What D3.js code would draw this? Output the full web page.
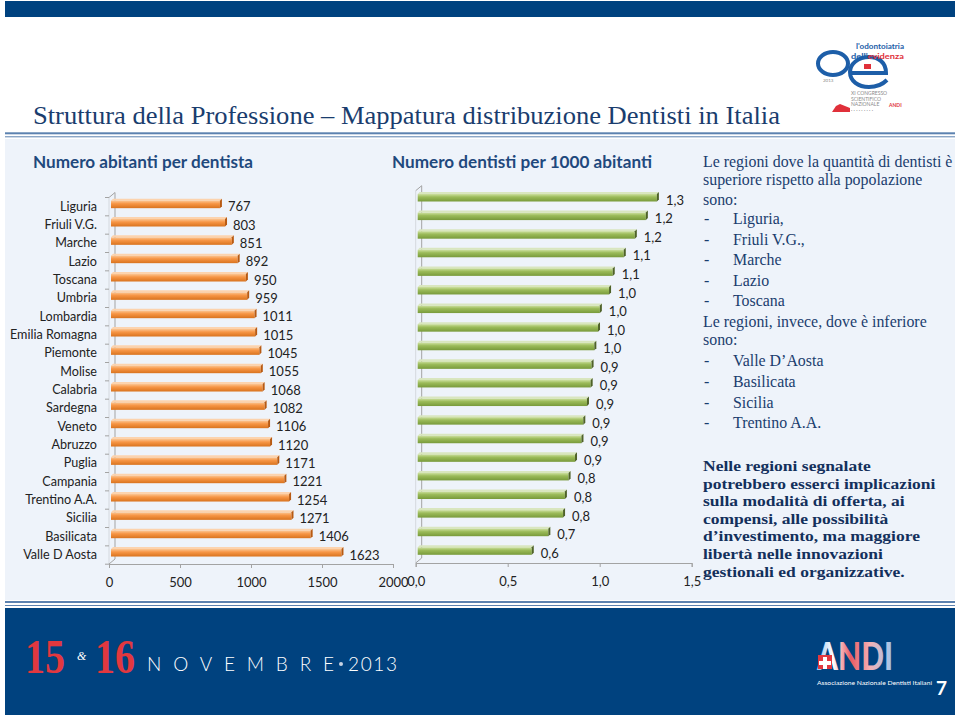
<!DOCTYPE html>
<html><head><meta charset="utf-8">
<script src="https://cdn.jsdelivr.net/npm/d3@7"></script>
<style>html,body{margin:0;padding:0;background:#fff;} svg{display:block}</style>
</head><body><div id="chart"></div>
<script>
const regions = ["Liguria","Friuli V.G.","Marche","Lazio","Toscana","Umbria","Lombardia","Emilia Romagna","Piemonte","Molise","Calabria","Sardegna","Veneto","Abruzzo","Puglia","Campania","Trentino A.A.","Sicilia","Basilicata","Valle D Aosta"];
const abitantiPerDentista = [767,803,851,892,950,959,1011,1015,1045,1055,1068,1082,1106,1120,1171,1221,1254,1271,1406,1623];
const dentistiPer1000 = [1.30,1.24,1.18,1.12,1.06,1.04,0.99,0.98,0.96,0.945,0.94,0.92,0.90,0.89,0.855,0.82,0.80,0.79,0.71,0.62];
const leftTicks = [0,500,1000,1500,2000];
const rightTicks = [0,0.5,1.0,1.5];
const mainTitle = "Struttura della Professione – Mappatura distribuzione Dentisti in Italia";
const leftTitle = "Numero abitanti per dentista";
const rightTitle = "Numero dentisti per 1000 abitanti";
const introSup = ["Le regioni dove la quantità di dentisti è","superiore rispetto alla popolazione","sono:"];
const superiore = ["Liguria,","Friuli V.G.,","Marche","Lazio","Toscana"];
const introInf = ["Le regioni, invece, dove è inferiore","sono:"];
const inferiore = ["Valle D’Aosta","Basilicata","Sicilia","Trentino A.A."];
const conclusione = ["Nelle regioni segnalate","potrebbero esserci implicazioni","sulla modalità di offerta, ai","compensi, alle possibilità","d’investimento, ma maggiore","libertà nelle innovazioni","gestionali ed organizzative."];

const NAVY = "#00427f";
const svg = d3.select("#chart").append("svg").attr("width",960).attr("height",716);
const defs = svg.append("defs");
function vgrad(id, stops){
  const g = defs.append("linearGradient").attr("id",id).attr("x1",0).attr("y1",0).attr("x2",0).attr("y2",1);
  stops.forEach(s=>g.append("stop").attr("offset",s[0]).attr("stop-color",s[1]));
}
vgrad("gOrange",[["0%","#fbc592"],["40%","#f79646"],["100%","#d9731e"]]);
vgrad("gGreen",[["0%","#cde0a0"],["40%","#9bbb59"],["100%","#789a3a"]]);
const andiG = defs.append("linearGradient").attr("id","gAndi").attr("x1",0).attr("y1",0).attr("x2",1).attr("y2",0);
[["0%","#8fc0ee"],["22%","#ffffff"],["45%","#e85a62"],["70%","#f3b0b4"],["100%","#9cc8f0"]].forEach(s=>andiG.append("stop").attr("offset",s[0]).attr("stop-color",s[1]));

// page frame
svg.append("rect").attr("x",5).attr("y",1).attr("width",950).attr("height",16).attr("fill",NAVY);
svg.append("rect").attr("x",5).attr("y",139).attr("width",950).attr("height",461).attr("fill","#eef3fa");
svg.append("rect").attr("x",5).attr("y",132.3).attr("width",950).attr("height",2).attr("fill","#5c82b0");
svg.append("rect").attr("x",5).attr("y",136.3).attr("width",950).attr("height",1).attr("fill","#5c82b0");
svg.append("rect").attr("x",5).attr("y",601).attr("width",950).attr("height",2).attr("fill","#5c82b0");
svg.append("rect").attr("x",5).attr("y",605).attr("width",950).attr("height",1).attr("fill","#5c82b0");
svg.append("rect").attr("x",5).attr("y",608).attr("width",950).attr("height",107).attr("fill",NAVY);

svg.append("text").attr("x",33).attr("y",124).attr("font-family","Liberation Serif, serif").attr("font-size",26)
  .attr("fill","#1a3d6e").attr("textLength",747).attr("lengthAdjust","spacingAndGlyphs").text(mainTitle);

// top-right logo
const lg = svg.append("g");
lg.append("ellipse").attr("cx",833).attr("cy",63.5).attr("rx",15).attr("ry",11.5).attr("fill","none").attr("stroke","#1d5ea8").attr("stroke-width",4);
lg.append("path").attr("d","M852,73 L886,73 C886,62 878,57 869,57 C858,57 850,64 850,72 C850,81 858,87 869,87 C877,87 883,84 887,80")
  .attr("fill","none").attr("stroke","#1d5ea8").attr("stroke-width",4);
lg.append("rect").attr("x",864).attr("y",64).attr("width",7).attr("height",5).attr("fill","#e0303a");
lg.append("text").attr("x",856).attr("y",49).attr("font-family","Lato, sans-serif").attr("font-weight",700).attr("font-size",7.5)
  .attr("fill","#1d5ea8").attr("textLength",48).attr("lengthAdjust","spacingAndGlyphs").text("l'odontoiatria");
const l2 = lg.append("text").attr("x",851).attr("y",58.5).attr("font-family","Lato, sans-serif").attr("font-weight",700).attr("font-size",7.5)
  .attr("textLength",53).attr("lengthAdjust","spacingAndGlyphs");
l2.append("tspan").attr("fill","#1d5ea8").text("dell'");
l2.append("tspan").attr("fill","#e0303a").text("evidenza");
lg.append("text").attr("x",823).attr("y",82).attr("font-family","Lato, sans-serif").attr("font-size",4.5).attr("fill","#888").text("2013");
["XI CONGRESSO","SCIENTIFICO","NAZIONALE","· · · · · · · · ·"].forEach((t,i)=>lg.append("text").attr("x",851).attr("y",95+i*5.5)
  .attr("font-family","Lato, sans-serif").attr("font-size",5).attr("fill","#8a8a8a").text(t));
lg.append("text").attr("x",889).attr("y",106.5).attr("font-family","Lato, sans-serif").attr("font-weight",700).attr("font-size",5).attr("fill","#e0303a").text("ANDI");
lg.append("path").attr("d","M832,112 L850,112 L850,108 L845,106 L840,104 L836,106 L834,109 Z").attr("fill","#e0303a");

// chart titles
svg.append("text").attr("x",33).attr("y",168).attr("font-family","Lato, sans-serif").attr("font-weight",700).attr("font-size",17)
  .attr("fill","#1f497d").attr("textLength",220).attr("lengthAdjust","spacingAndGlyphs").text(leftTitle);
svg.append("text").attr("x",392).attr("y",168).attr("font-family","Lato, sans-serif").attr("font-weight",700).attr("font-size",17)
  .attr("fill","#1f497d").attr("textLength",260).attr("lengthAdjust","spacingAndGlyphs").text(rightTitle);

const fmtIt = v => d3.format(".1f")(v).replace(".",",");

function drawChart(opt){
  const g = svg.append("g");
  const x = d3.scaleLinear().domain(opt.domain).range(opt.xRange);
  const y = d3.scaleBand().domain(regions).range(opt.yRange);
  const x0 = x(0), bw = y.bandwidth(), top = opt.yRange[0]-5, floor = opt.floorY, d = 6;
  const grid = "#a3a3a3";
  g.append("line").attr("x1",x0+d).attr("x2",x0+d).attr("y1",top).attr("y2",floor-5).attr("stroke",grid);
  g.append("line").attr("x1",x0).attr("x2",x0+d).attr("y1",top+5).attr("y2",top).attr("stroke",grid);
  g.append("line").attr("x1",x0).attr("x2",x0).attr("y1",top+5).attr("y2",floor).attr("stroke","#d4d8de");
  g.append("line").attr("x1",x0).attr("x2",x0+d).attr("y1",floor).attr("y2",floor-5).attr("stroke",grid);
  if(opt.catTicks){
    g.selectAll("line.ct").data(regions.map(r=>y(r)).concat([opt.yRange[1]])).join("line").attr("class","ct")
      .attr("x1",x0-4).attr("x2",x0).attr("y1",v=>v).attr("y2",v=>v).attr("stroke",grid);
  }
  const ax = g.append("g").attr("transform",`translate(0,${floor})`)
    .call(d3.axisBottom(x).tickValues(opt.ticks).tickSize(4).tickPadding(10).tickFormat(opt.tickFmt));
  ax.select(".domain").attr("stroke",grid);
  ax.selectAll(".tick line").attr("stroke",grid);
  ax.selectAll("text").attr("font-family","Lato, sans-serif").attr("font-size",13).attr("fill","#222");
  if(opt.showCats){
    const ay = g.append("g").attr("transform",`translate(${x0},0)`).call(d3.axisLeft(y).tickSize(0).tickPadding(12));
    ay.select(".domain").remove();
    ay.selectAll("text").attr("font-family","Lato, sans-serif").attr("font-size",12.6).attr("fill","#222");
  }
  const bars = g.selectAll("g.bar").data(regions.map((r,i)=>({r, v: opt.values[i]}))).join("g").attr("class","bar");
  const c = dd => y(dd.r)+bw/2;
  const bx0 = x0+2;
  bars.append("path").attr("fill",opt.topColor)
    .attr("d",dd=>`M${bx0},${c(dd)-6} L${bx0+2},${c(dd)-8} L${x(dd.v)+4},${c(dd)-8} L${x(dd.v)+2},${c(dd)-6} Z`);
  bars.append("rect").attr("x",bx0).attr("y",dd=>c(dd)-6).attr("width",dd=>x(dd.v)+2-bx0).attr("height",7.5).attr("fill",`url(#${opt.grad})`);
  bars.append("path").attr("fill",opt.sideColor)
    .attr("d",dd=>`M${x(dd.v)+2},${c(dd)-6} L${x(dd.v)+4},${c(dd)-8} L${x(dd.v)+4},${c(dd)-0.5} L${x(dd.v)+2},${c(dd)+1.5} Z`);
  bars.append("text").attr("x",dd=>x(dd.v)+opt.labelGap).attr("y",c).attr("dy","0.35em")
    .attr("font-family","Lato, sans-serif").attr("font-size",opt.labelSize).attr("fill","#222").text(dd=>opt.fmt(dd.v));
}

drawChart({values:abitantiPerDentista, domain:[0,2000], xRange:[109,393], yRange:[197.5,564.2], floorY:564,
  ticks:leftTicks, tickFmt:d3.format("d"), showCats:true, catTicks:true, grad:"gOrange", sideColor:"#b85a12", topColor:"#fcd3ae",
  fmt:d3.format("d"), labelGap:10, labelSize:13});
drawChart({values:dentistiPer1000, domain:[0,1.5], xRange:[415.7,691.7], yRange:[190.7,562.6], floorY:563,
  ticks:rightTicks, tickFmt:fmtIt, showCats:false, catTicks:false, grad:"gGreen", sideColor:"#4f6228", topColor:"#d9e6bf",
  fmt:fmtIt, labelGap:11, labelSize:13});

// right-hand text
const tg = svg.append("g").attr("font-family","Liberation Serif, serif").attr("fill","#1a3d6e");
const reg = 15.9;
introSup.forEach((t,i)=>tg.append("text").attr("x",703).attr("y",[167,185,205][i]).attr("font-size",reg).text(t));
superiore.forEach((t,i)=>{
  const yy = 224 + i*20.6;
  tg.append("text").attr("x",704).attr("y",yy).attr("font-size",reg).text("-");
  tg.append("text").attr("x",733).attr("y",yy).attr("font-size",reg).text(t);
});
introInf.forEach((t,i)=>tg.append("text").attr("x",703).attr("y",[327,345][i]).attr("font-size",reg).text(t));
inferiore.forEach((t,i)=>{
  const yy = 366 + i*20.8;
  tg.append("text").attr("x",704).attr("y",yy).attr("font-size",reg).text("-");
  tg.append("text").attr("x",733).attr("y",yy).attr("font-size",reg).text(t);
});
// bold paragraph: measure natural width at the wide size, then draw at a smaller height stretched to that width
conclusione.forEach((t,i)=>{
  const el = tg.append("text").attr("x",703).attr("y",471+i*17.6).attr("font-size",17.5).attr("font-weight",700).attr("fill","#13305c").text(t);
  const w = el.node().getComputedTextLength();
  el.attr("font-size",15).attr("textLength",w).attr("lengthAdjust","spacingAndGlyphs");
});

// bottom banner
const bt = svg.append("g");
bt.append("text").attr("x",25).attr("y",673).attr("font-family","Liberation Serif, serif").attr("font-weight",700).attr("font-size",48)
  .attr("fill","#e2383f").attr("textLength",40).attr("lengthAdjust","spacingAndGlyphs").text("15");
bt.append("text").attr("x",77).attr("y",660).attr("font-family","Liberation Serif, serif").attr("font-style","italic").attr("font-size",12).attr("fill","#fff").text("&");
bt.append("text").attr("x",95).attr("y",673).attr("font-family","Liberation Serif, serif").attr("font-weight",700).attr("font-size",48)
  .attr("fill","#e2383f").attr("textLength",40).attr("lengthAdjust","spacingAndGlyphs").text("16");
bt.append("text").attr("x",147).attr("y",671).attr("font-family","Lato, sans-serif").attr("font-weight",300).attr("font-size",19)
  .attr("fill","#fff").attr("textLength",187).attr("lengthAdjust","spacing").text("NOVEMBRE");
bt.append("circle").attr("cx",341).attr("cy",664).attr("r",2).attr("fill","#c8d3e3");
bt.append("text").attr("x",348).attr("y",671).attr("font-family","Lato, sans-serif").attr("font-weight",300).attr("font-size",19)
  .attr("fill","#fff").attr("textLength",49).attr("lengthAdjust","spacing").text("2013");
bt.append("text").attr("x",817).attr("y",670).attr("font-family","Lato, sans-serif").attr("font-weight",900).attr("font-size",38)
  .attr("fill","url(#gAndi)").attr("textLength",76).attr("lengthAdjust","spacingAndGlyphs").text("ANDI");
bt.append("rect").attr("x",818).attr("y",655).attr("width",14).attr("height",14).attr("fill","#e2383f");
bt.append("path").attr("d","M823,657 h4 v4 h4 v4 h-4 v4 h-4 v-4 h-4 v-4 h4 Z").attr("fill","#fff");
bt.append("text").attr("x",817).attr("y",685).attr("font-family","Lato, sans-serif").attr("font-size",6).attr("fill","#fff")
  .attr("textLength",115).attr("lengthAdjust","spacingAndGlyphs").text("Associazione Nazionale Dentisti Italiani");
bt.append("text").attr("x",936).attr("y",695).attr("font-family","Lato, sans-serif").attr("font-weight",700).attr("font-size",19).attr("fill","#fff").text("7");
</script>
</body></html>
